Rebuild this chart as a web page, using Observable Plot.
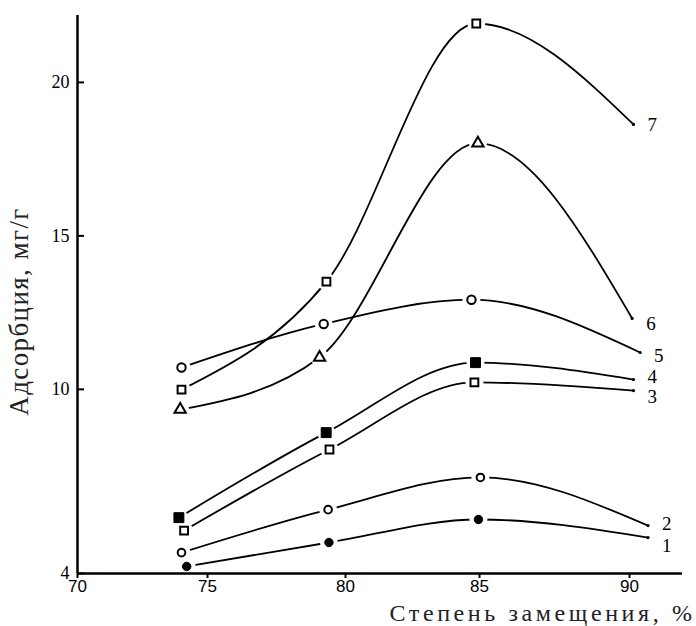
<!DOCTYPE html>
<html><head><meta charset="utf-8">
<script src="https://cdn.jsdelivr.net/npm/d3@7"></script>
<script src="https://cdn.jsdelivr.net/npm/@observablehq/plot@0.6"></script>
<style>body{margin:0;background:#fff}</style>
</head><body><div id="chart"></div>
<script>
// Tick labels
const xTicks = [70, 75, 80, 85, 90];
const yTicks = [4, 10, 15, 20];
const xTitle = "Степень замещения, %";
const yTitle = "Адсорбция, мг/г";

// Series (curve numbers) and values: degree of substitution (%), adsorption (mg/g)
const seriesNames = ["1", "2", "3", "4", "5", "6", "7"];
const degree1 = [74.2, 79.4, 84.96, 90.7];
const adsorption1 = [4.23, 5.01, 5.76, 5.17];
const degree2 = [74.0, 79.37, 85.03, 90.7];
const adsorption2 = [4.68, 6.08, 7.13, 5.56];
const degree3 = [74.1, 79.42, 84.81, 90.15];
const adsorption3 = [5.4, 8.04, 10.23, 9.96];
const degree4 = [73.9, 79.3, 84.85, 90.15];
const adsorption4 = [5.82, 8.59, 10.87, 10.32];
const degree5 = [74.0, 79.21, 84.7, 90.4];
const adsorption5 = [10.71, 12.13, 12.92, 11.2];
const degree6 = [73.95, 79.06, 84.94, 90.1];
const adsorption6 = [9.34, 11.04, 18.02, 12.31];
const degree7 = [74.0, 79.31, 84.88, 90.15];
const adsorption7 = [9.99, 13.51, 21.92, 18.63];

const degrees = [degree1, degree2, degree3, degree4, degree5, degree6, degree7];
const adsorptions = [adsorption1, adsorption2, adsorption3, adsorption4, adsorption5, adsorption6, adsorption7];

const rows = [];
seriesNames.forEach((s, i) => {
  degrees[i].forEach((x, j) => rows.push({series: s, x, y: adsorptions[i][j], idx: j, last: j === degrees[i].length - 1}));
});
const markerRows = rows.filter(d => !d.last);
const lastRows = rows.filter(d => d.last);

// marker styles per series
const markerStyle = {
  "1": {symbol: "circle", fill: "black", stroke: "black", r: 4.2, sw: 1},
  "2": {symbol: "circle", fill: "white", stroke: "black", r: 3.8, sw: 2},
  "3": {symbol: "square", fill: "white", stroke: "black", r: 4.4, sw: 2},
  "4": {symbol: "square", fill: "black", stroke: "black", r: 5.6, sw: 1},
  "5": {symbol: "circle", fill: "white", stroke: "black", r: 4.2, sw: 2},
  "6": {symbol: "triangle", fill: "white", stroke: "black", r: 4.2, sw: 2},
  "7": {symbol: "square", fill: "white", stroke: "black", r: 4.4, sw: 2}
};
const labelNudge = {"1": 8, "2": -2, "3": 6, "4": -3, "5": 3, "6": 5, "7": 0};

const serif = "Liberation Serif, Times New Roman, serif";
const sans = "Liberation Sans, Arial, sans-serif";

const marks = [
  Plot.line(rows, {x: "x", y: "y", z: "series", curve: "monotone-x", stroke: "black", strokeWidth: 1.8}),
  Plot.dot(markerRows, {x: "x", y: "y", r: 9, fill: "white", stroke: "none"}),
  Plot.ruleX([70], {stroke: "black", strokeWidth: 2.5}),
  Plot.ruleY([4], {stroke: "black", strokeWidth: 2.5}),
  Plot.axisX({ticks: xTicks, tickSize: 5, tickPadding: 1, strokeWidth: 2, fontSize: 17, fontFamily: sans, label: null, tickFormat: d => String(d)}),
  Plot.axisY({ticks: yTicks, tickSize: -7, tickPadding: 15, strokeWidth: 2, fontSize: 18, fontFamily: serif, label: null, tickFormat: d => String(d)}),
  Plot.dot(lastRows, {x: "x", y: "y", r: 1.6, fill: "black"}),
  ...seriesNames.map(s => {
    const st = markerStyle[s];
    return Plot.dot(markerRows.filter(d => d.series === s), {x: "x", y: "y", symbol: st.symbol, r: st.r, fill: st.fill, stroke: st.stroke, strokeWidth: st.sw});
  }),
  ...seriesNames.map(s => Plot.text(lastRows.filter(d => d.series === s), {x: "x", y: "y", text: "series", dx: 14, dy: labelNudge[s], textAnchor: "start", fontSize: 19, fontFamily: serif, fill: "black"})),
  Plot.text([xTitle], {frameAnchor: "bottom-right", dx: 13, dy: 47, textAnchor: "end", lineAnchor: "bottom", fontSize: 24, fontFamily: serif, fill: "#222"}),
  Plot.text([yTitle], {frameAnchor: "left", rotate: -90, dx: -58, dy: 17, textAnchor: "middle", lineAnchor: "middle", fontSize: 27, fontFamily: serif, fill: "#222"})
];

const chart = Plot.plot({
  width: 696,
  height: 626,
  marginLeft: 77,
  marginRight: 14,
  marginTop: 15,
  marginBottom: 53,
  style: {background: "white", overflow: "visible"},
  x: {type: "linear", domain: [70, 75, 80, 85, 90, 92], range: [77, 207, 345, 479, 629, 682]},
  y: {domain: [4, 22.18]},
  marks
});
d3.select(chart).selectAll("text").filter(function() { return this.textContent === xTitle; }).style("letter-spacing", "3.6px");
d3.select(chart).selectAll("text").filter(function() { return this.textContent === yTitle; }).style("letter-spacing", "1.4px");
document.getElementById("chart").append(chart);
</script>
</body></html>
